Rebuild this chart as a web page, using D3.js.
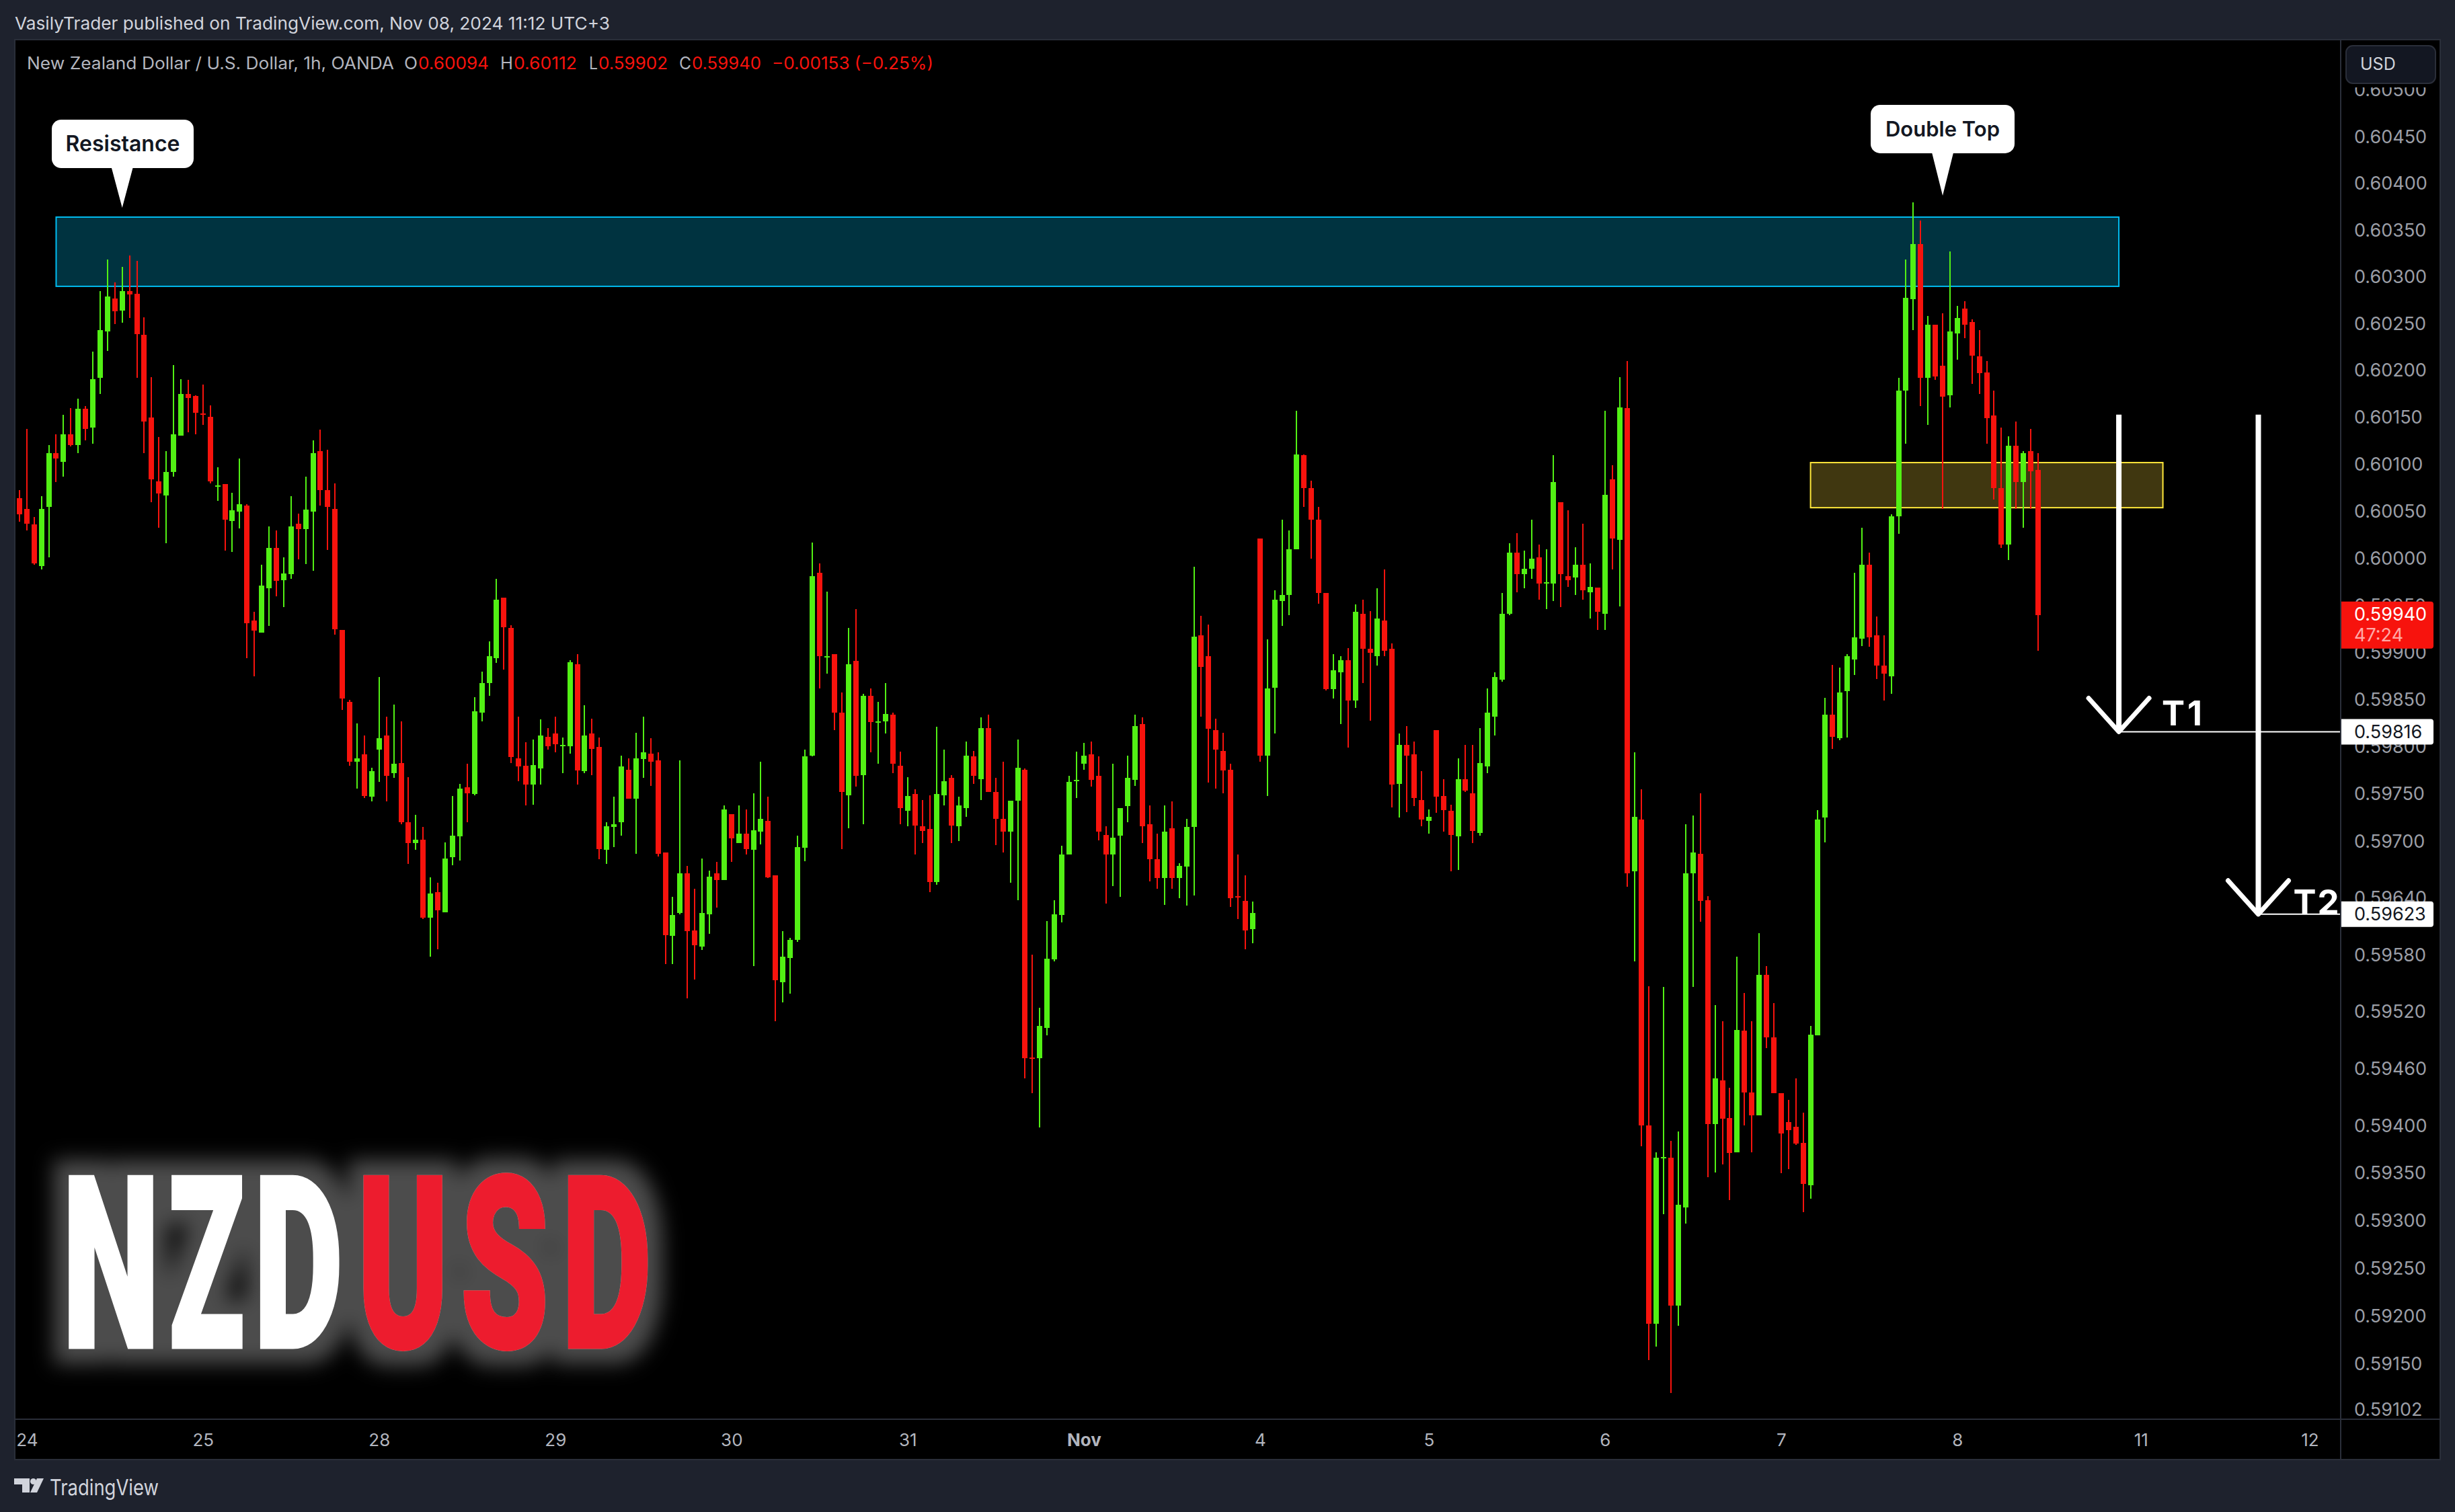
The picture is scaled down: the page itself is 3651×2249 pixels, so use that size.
<!DOCTYPE html>
<html><head><meta charset="utf-8">
<style>html,body{margin:0;padding:0;background:#1e222d;overflow:hidden}svg{display:block}text{font-family:Inter,"Noto Sans",sans-serif}</style>
<script src="https://cdn.jsdelivr.net/npm/d3@7"></script></head>
<body><svg id="c" width="3651" height="2249"></svg>
<script>
// prices are in points (price x 100000)
const opens=[60064,60053,60036,59992,60055,60112,60103,60132,60121,60159,
60139,60192,60242,60277,60264,60285,60282,60238,60150,60082,
60067,60092,60131,60175,60173,60154,60151,60077,60079,60040,
60050,60056,59934,59921,59968,60011,59977,59983,60037,60031,
60050,60114,60073,60053,59924,59848,59784,59792,59747,59797,
59812,59772,59783,59720,59698,59702,59619,59646,59625,59683,
59705,59757,59750,59836,59868,59894,59958,59926,59788,59780,
59760,59777,59811,59814,59801,59801,59888,59774,59814,59800,
59691,59715,59720,59776,59745,59787,59793,59786,59688,59600,
59624,59666,59606,59589,59623,59666,59659,59729,59698,59708,
59691,59710,59722,59664,59551,59577,59596,59693,59791,59985,
59895,59898,59836,59749,59891,59770,59854,59826,59827,59834,
59780,59732,59750,59716,59713,59657,59749,59767,59716,59735,
59790,59766,59820,59752,59724,59710,59743,59776,59472,59471,
59503,59575,59622,59686,59764,59782,59792,59769,59707,59686,
59706,59737,59765,59824,59718,59681,59661,59714,59661,59673,
59715,59918,59896,59818,59796,59776,59642,59637,59607,60021,
59791,59863,59955,59961,60010,60110,60075,60041,59963,59861,
59879,59892,59849,59941,59904,59896,59934,59904,59761,59802,
59792,59744,59722,59818,59748,59732,59705,59766,59751,59709,
59779,59832,59871,59941,60006,59983,59989,60001,59973,59973,
60060,59981,59980,59993,59964,59969,59941,60084,60020,60160,
59668,59723,59400,59192,59366,59366,59211,59314,59666,59687,
59638,59402,59448,59408,59372,59500,59435,59411,59559,59493,
59434,59404,59399,59382,59337,59495,59725,59834,59809,59859,
59893,59915,59993,59918,59886,59875,60045,60179,60276,60335,
60192,60249,60205,60174,60240,60266,60252,60215,60198,60152,
60075,60015,60120,60081,60114,60094];
const highs=[60073,60138,60044,60066,60121,60132,60153,60160,60170,60162,
60220,60285,60319,60294,60311,60323,60317,60257,60193,60129,
60114,60206,60191,60190,60174,60185,60163,60097,60079,60070,
60106,60058,59943,59993,60034,60030,60001,60066,60048,60087,
60126,60137,60116,60080,59924,59850,59825,59812,59778,59874,
59832,59845,59827,59768,59728,59715,59662,59656,59699,59748,
59761,59782,59853,59880,59912,59978,59958,59929,59832,59805,
59808,59829,59820,59832,59810,59892,59898,59844,59830,59810,
59720,59747,59791,59788,59815,59832,59809,59794,59688,59641,
59786,59674,59650,59682,59669,59678,59738,59729,59738,59734,
59751,59784,59747,59664,59605,59598,59706,59797,60017,59995,
59965,59898,59858,59926,59946,59856,59862,59848,59868,59836,
59795,59768,59755,59744,59749,59821,59797,59770,59747,59806,
59796,59831,59834,59767,59784,59743,59808,59777,59580,59524,
59616,59638,59695,59769,59795,59804,59806,59790,59716,59782,
59735,59791,59834,59831,59738,59708,59738,59742,59677,59724,
59991,59939,59930,59830,59815,59782,59686,59664,59636,60021,
59914,59966,60041,60030,60157,60111,60083,60055,59963,59898,
59896,59905,59951,59956,59944,59968,59988,59910,59814,59822,
59806,59774,59734,59818,59766,59739,59788,59802,59802,59820,
59862,59879,59963,60016,60027,60008,60041,60015,60010,60110,
60060,60051,60012,60037,59995,59969,60157,60099,60193,60210,
59794,59755,59547,59372,59546,59384,59394,59718,59727,59751,
59642,59527,59510,59440,59578,59540,59510,59603,59568,59529,
59434,59427,59450,59414,59505,59733,59852,59887,59884,59898,
59985,60033,60006,59938,59918,60047,60192,60319,60380,60360,
60258,60249,60261,60327,60269,60274,60255,60243,60210,60179,
60139,60130,60146,60114,60138,60112];
const lows=[60039,60030,59993,59988,60001,60081,60087,60119,60112,60126,
60122,60175,60221,60250,60251,60256,60192,60112,60060,60033,
60016,60087,60131,60134,60132,60142,60080,60061,60008,60007,
60032,59894,59875,59921,59928,59960,59948,59978,59999,59994,
59987,60056,60009,59919,59839,59780,59756,59746,59742,59763,
59742,59767,59718,59676,59691,59618,59578,59586,59625,59675,
59680,59720,59749,59827,59854,59889,59882,59783,59764,59738,
59739,59760,59797,59794,59772,59793,59760,59772,59770,59681,
59676,59694,59706,59745,59687,59767,59759,59684,59570,59570,
59623,59534,59554,59585,59602,59630,59659,59678,59698,59686,
59568,59697,59661,59510,59530,59539,59594,59679,59790,59862,
59878,59818,59692,59714,59758,59718,59794,59782,59814,59772,
59718,59716,59686,59698,59646,59654,59738,59698,59700,59726,
59761,59744,59752,59696,59688,59656,59638,59450,59434,59398,
59495,59573,59614,59686,59746,59776,59758,59701,59634,59653,
59641,59720,59759,59698,59658,59650,59633,59650,59640,59632,
59643,59832,59762,59756,59751,59631,59618,59586,59592,59784,
59748,59814,59928,59940,60010,60055,60000,59952,59860,59851,
59824,59799,59841,59868,59828,59886,59896,59736,59725,59731,
59737,59716,59708,59730,59710,59668,59670,59752,59698,59706,
59772,59812,59869,59940,59964,59968,59978,59956,59946,59955,
59948,59970,59961,59956,59936,59924,59924,59988,59949,59652,
59573,59378,59154,59168,59307,59119,59190,59297,59546,59615,
59346,59351,59359,59322,59372,59400,59372,59411,59482,59434,
59350,59354,59380,59309,59323,59495,59699,59798,59807,59810,
59876,59907,59906,59872,59849,59856,60026,60122,60243,60162,
60142,60190,60053,60161,60212,60235,60186,60175,60122,60063,
60011,59998,60053,60033,60053,59902];
const closes=[60047,60037,59995,60053,60112,60106,60132,60121,60159,60138,
60191,60243,60279,60263,60285,60281,60239,60146,60084,60069,
60092,60132,60175,60171,60155,60153,60082,60078,60041,60051,
60058,59931,59923,59971,60011,59976,59984,60034,60031,60052,
60112,60073,60055,59925,59851,59784,59788,59748,59774,59809,
59769,59782,59720,59698,59702,59619,59645,59627,59682,59706,
59756,59751,59838,59868,59896,59956,59927,59789,59779,59760,
59781,59812,59801,59803,59802,59890,59775,59812,59798,59692,
59716,59718,59779,59745,59788,59794,59784,59687,59601,59622,
59666,59605,59590,59624,59663,59659,59734,59703,59708,59692,
59712,59724,59662,59553,59578,59596,59694,59790,59981,59896,
59896,59836,59752,59888,59769,59854,59826,59827,59835,59782,
59735,59748,59717,59711,59657,59750,59764,59717,59738,59791,
59769,59820,59752,59724,59710,59743,59778,59471,59471,59505,
59576,59623,59686,59763,59765,59791,59765,59710,59686,59704,
59735,59767,59822,59716,59681,59661,59710,59661,59674,59715,
59917,59885,59819,59797,59775,59640,59641,59606,59624,59791,
59862,59956,59961,60010,60111,60075,60041,59963,59861,59881,
59892,59849,59943,59904,59900,59936,59902,59760,59802,59791,
59746,59723,59726,59747,59733,59707,59766,59754,59711,59783,
59836,59874,59941,60006,59983,59989,60000,59973,59975,60081,
59983,59977,59993,59966,59970,59943,60068,60021,60161,59666,
59726,59400,59192,59366,59367,59211,59317,59666,59688,59637,
59402,59450,59407,59371,59501,59435,59411,59559,59493,59434,
59392,59395,59381,59339,59496,59723,59834,59811,59858,59896,
59916,59993,59916,59886,59878,60045,60179,60278,60335,60192,
60249,60194,60172,60242,60256,60249,60216,60197,60149,60075,
60015,60120,60081,60112,60093,59940];

const priceTicks=[0.605,0.6045,0.604,0.6035,0.603,0.6025,0.602,0.6015,0.601,0.6005,0.6,0.5995,0.599,0.5985,0.598,0.5975,0.597,0.5964,0.5958,0.5952,0.5946,0.594,0.5935,0.593,0.5925,0.592,0.5915,0.59102];
const dayLabels=["24","25","28","29","30","31","Nov","4","5","6","7","8","11","12"];
const dayBars=[1,25,49,73,97,121,145,169,192,216,240,264,289,312];
const t1Price=0.59816,t2Price=0.59623,lastClose=0.5994,lastCountdown="47:24";
const resistanceZone={from:5,to:286,top:0.60364,bottom:0.6029};
const pullbackZone={from:244,to:292,top:0.60102,bottom:0.60054};
const arrowTopPrice=0.60153,t1Bar=286,t2Bar=305;
const calloutLabels=[{text:"Resistance",bar:14,price:0.60374},{text:"Double Top",bar:262,price:0.60387}];

const x=d3.scaleLinear().domain([0,275]).range([28.9,3031]);
const y=d3.scaleLog().domain([t2Price,t1Price]).range([1359.8,1088.5]);
const pt=v=>y(v/100000);
const RED="#f7130d",GREEN="#52f014",GRID="#2a2e39",TICK="#9b9ea6";
const svg=d3.select("#c");

// page + pane
svg.append("rect").attr("width",3651).attr("height",2249).attr("fill","#1e222d");
svg.append("rect").attr("x",22).attr("y",59).attr("width",3607).attr("height",2112).attr("fill","#000").attr("stroke",GRID).attr("stroke-width",2);

// NZDUSD watermark: glow is a filter on the real letters, so there is one copy of the text
const wm=[["N",92.5,145,"#fff"],["Z",250.8,113,"#fff"],["D",377.2,133,"#fff"],["U",531.3,136,"#ed1c2e"],["S",684.5,132,"#ed1c2e"],["D",835.1,134,"#ed1c2e"]];
const f=svg.append("defs").append("filter").attr("id","glow").attr("filterUnits","userSpaceOnUse")
  .attr("x",0).attr("y",1620).attr("width",1120).attr("height",490);
f.append("feMorphology").attr("in","SourceAlpha").attr("operator","dilate").attr("radius",22).attr("result","d");
f.append("feGaussianBlur").attr("in","d").attr("stdDeviation",15).attr("result","b");
f.append("feFlood").attr("flood-color","#fff").attr("flood-opacity",0.3).attr("result","w");
f.append("feComposite").attr("in","w").attr("in2","b").attr("operator","in").attr("result","g");
const fm=f.append("feMerge");
fm.append("feMergeNode").attr("in","g");
fm.append("feMergeNode").attr("in","SourceGraphic");
const wg=svg.append("g").attr("filter","url(#glow)");
wm.forEach(d=>wg.append("text").text(d[0])
  .attr("x",d[1]).attr("y",2004).attr("textLength",d[2]).attr("lengthAdjust","spacingAndGlyphs")
  .attr("font-size",357).attr("font-weight",900).style("font-family","Roboto")
  .attr("fill",d[3]).attr("stroke",d[3]).attr("stroke-width",5));

// zones
[[resistanceZone,"#003340","#00bdf2"],[pullbackZone,"#403710","#ffe83b"]].forEach(([z,f,s])=>{
  svg.append("rect").attr("x",x(z.from)).attr("y",y(z.top)).attr("width",x(z.to)-x(z.from)).attr("height",y(z.bottom)-y(z.top))
   .attr("fill",f).attr("stroke",s).attr("stroke-width",2);
});

// candles
const bars=d3.range(opens.length);
const cg=svg.append("g").attr("shape-rendering","crispEdges");
const col=i=>closes[i]>=opens[i]?GREEN:RED;
cg.selectAll(".w").data(bars).join("rect").attr("class","w")
  .attr("x",i=>Math.round(x(i))-1).attr("width",2)
  .attr("y",i=>pt(highs[i])).attr("height",i=>pt(lows[i])-pt(highs[i])).attr("fill",col);
cg.selectAll(".b").data(bars).join("rect").attr("class","b")
  .attr("x",i=>Math.round(x(i))-4).attr("width",8)
  .attr("y",i=>Math.min(pt(opens[i]),pt(closes[i])))
  .attr("height",i=>Math.max(2,Math.abs(pt(opens[i])-pt(closes[i])))).attr("fill",col);

// axes
const AX=3481,BOT=2111;
svg.append("line").attr("x1",AX).attr("x2",AX).attr("y1",59).attr("y2",2171).attr("stroke",GRID).attr("stroke-width",2);
svg.append("line").attr("x1",22).attr("x2",3629).attr("y1",BOT).attr("y2",BOT).attr("stroke",GRID).attr("stroke-width",2);
const ya=svg.append("g").attr("transform",`translate(${AX},0)`)
  .call(d3.axisRight(y).tickValues(priceTicks).tickFormat(d3.format(".5f")).tickSize(0).tickPadding(20));
ya.select(".domain").remove();
ya.selectAll("text").attr("fill",TICK).attr("font-size",27).style("font-family","Inter");
const xa=svg.append("g").attr("transform",`translate(0,${BOT})`)
  .call(d3.axisBottom(x).tickValues(dayBars).tickFormat((d,i)=>dayLabels[i]).tickSize(0).tickPadding(22));
xa.select(".domain").remove();
xa.selectAll("text").attr("fill","#b2b5be").attr("font-size",26).style("font-family","Inter")
  .attr("font-weight",(d,i)=>dayLabels[i]==="Nov"?700:400);

// USD button
svg.append("rect").attr("x",3483).attr("y",60).attr("width",145).attr("height",70).attr("fill","#000");
svg.append("rect").attr("x",3489).attr("y",68).attr("width",133).attr("height",56).attr("rx",10).attr("fill","#131722").attr("stroke",GRID).attr("stroke-width",2);
svg.append("text").text("USD").attr("x",3510).attr("y",104).attr("font-size",25).attr("fill","#d1d4dc");

// target lines and arrows
const W="#fff";
const arrow=(bar,p)=>{
  const X=x(bar),T=y(p);
  svg.append("line").attr("x1",X).attr("x2",X).attr("y1",y(arrowTopPrice)).attr("y2",T).attr("stroke",W).attr("stroke-width",8);
  svg.append("path").attr("d",`M${X-45},${T-50}L${X},${T}L${X+45},${T-50}`).attr("fill","none").attr("stroke",W).attr("stroke-width",7).attr("stroke-linecap","round").attr("stroke-linejoin","round");
  svg.append("line").attr("x1",X).attr("x2",AX-1).attr("y1",T).attr("y2",T).attr("stroke",W).attr("stroke-width",2);
};
arrow(t1Bar,t1Price);arrow(t2Bar,t2Price);
svg.append("text").text("T1").attr("x",x(t1Bar)+64).attr("y",y(t1Price)-9.5).attr("font-size",51).attr("font-weight",700).attr("letter-spacing",4).attr("fill",W);
svg.append("text").text("T2").attr("x",x(t2Bar)+52).attr("y",y(t2Price)).attr("font-size",51).attr("font-weight",700).attr("letter-spacing",2).attr("fill",W);

// price labels
const tag=(p,h,fill,color,txt)=>{
  svg.append("path").attr("d",`M3482,${y(p)-h/2}H3615a4,4 0 0 1 4,4V${y(p)+h/2-4}a4,4 0 0 1 -4,4H3482Z`).attr("fill",fill);
  svg.append("text").text(txt).attr("x",3501).attr("y",y(p)+9.5).attr("font-size",27).attr("fill",color);
};
tag(t1Price,38,W,"#131722",d3.format(".5f")(t1Price));
tag(t2Price,38,W,"#131722",d3.format(".5f")(t2Price));
const ly=y(lastClose);
svg.append("path").attr("d",`M3482,${ly-20}H3615a4,4 0 0 1 4,4V${ly+46}a4,4 0 0 1 -4,4H3482Z`).attr("fill",RED);
svg.append("text").text(d3.format(".5f")(lastClose)).attr("x",3501).attr("y",ly+8).attr("font-size",27).attr("fill",W);
svg.append("text").text(lastCountdown).attr("x",3501).attr("y",ly+39).attr("font-size",27).attr("fill","#ffa9a6");

// callouts
calloutLabels.forEach(c=>{
  const tx=x(c.bar),ty=y(c.price),bw=c.text==="Resistance"?211:214,bh=72,bx=c.text==="Resistance"?77:2782,by=ty-131+(c.text==="Resistance"?0:-4);
  svg.append("rect").attr("x",bx).attr("y",by).attr("width",bw).attr("height",bh).attr("rx",14).attr("fill",W);
  svg.append("path").attr("d",`M${tx-16},${by+bh-1}L${tx},${ty}L${tx+16},${by+bh-1}Z`).attr("fill",W);
  svg.append("text").text(c.text).attr("x",bx+bw/2).attr("y",by+bh/2+11).attr("text-anchor","middle").attr("font-size",c.text==="Resistance"?32:31).attr("font-weight",600).attr("fill","#131722");
});

// header + legend
const lbl=(t,x0,x1,yy,fill,fs)=>svg.append("text").text(t).attr("x",x0).attr("y",yy).attr("font-size",fs||25).attr("fill",fill).attr("textLength",x1-x0).attr("lengthAdjust","spacingAndGlyphs");
lbl("VasilyTrader published on TradingView.com, Nov 08, 2024 11:12 UTC+3",22,907,44,"#d1d4dc",26);
const LG="#b2b5be",Y=103;
lbl("New Zealand Dollar / U.S. Dollar, 1h, OANDA",40,586,Y,LG);
lbl("O",601,621,Y,LG);lbl("0.60094",622,727,Y,RED);
lbl("H",744,763,Y,LG);lbl("0.60112",764,858,Y,RED);
lbl("L",876,889,Y,LG);lbl("0.59902",890,993,Y,RED);
lbl("C",1010,1028,Y,LG);lbl("0.59940",1029,1132,Y,RED);
lbl("\u22120.00153 (\u22120.25%)",1148,1388,Y,RED);

// footer logo
svg.append("path").attr("d","M21,2199H44V2220H33V2208H21Z").attr("fill","#d1d4dc");
svg.append("circle").attr("cx",49.5).attr("cy",2203.5).attr("r",4.5).attr("fill","#d1d4dc");
svg.append("path").attr("d","M55,2199H65L55,2220H45Z").attr("fill","#d1d4dc");
lbl("TradingView",74,236,2224,"#d1d4dc",32);
</script></body></html>
